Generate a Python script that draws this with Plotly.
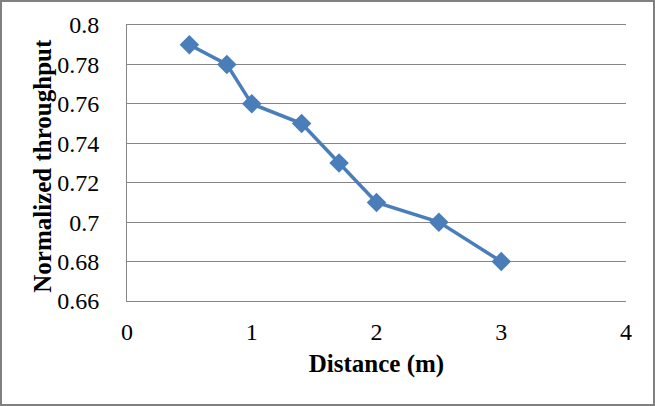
import plotly.graph_objects as go

distance = [0.5, 0.8, 1.0, 1.4, 1.7, 2.0, 2.5, 3.0]
throughput = [0.79, 0.78, 0.76, 0.75, 0.73, 0.71, 0.70, 0.68]
x_ticks = [0, 1, 2, 3, 4]
y_ticks = [0.66, 0.68, 0.70, 0.72, 0.74, 0.76, 0.78, 0.80]
y_labels = ["0.66", "0.68", "0.7", "0.72", "0.74", "0.76", "0.78", "0.8"]

W, H = 655, 406
L, R, T, B = 127, 29, 25, 105
PW, PH = W - L - R, H - T - B

fig = go.Figure()
fig.add_trace(go.Scatter(
    x=distance, y=throughput, mode="lines+markers",
    line=dict(color="#4A7EBB", width=3.5),
    marker=dict(symbol="diamond", size=15, color="#4A7EBB"),
    showlegend=False,
))

font = "Times New Roman"
fig.update_layout(
    width=W, height=H,
    margin=dict(l=L, r=R, t=T, b=B),
    paper_bgcolor="white", plot_bgcolor="white",
    font=dict(family=font, size=24, color="black"),
    xaxis=dict(
        range=[0, 4], tickvals=x_ticks, showgrid=False, zeroline=False,
        showline=True, mirror=True, linecolor="#868686", linewidth=1,
        ticks="", ticklabelstandoff=9,
        title=dict(text="<b>Distance (m)</b>", font=dict(family=font, size=25), standoff=10),
    ),
    yaxis=dict(
        range=[0.66, 0.80], tickvals=y_ticks, ticktext=y_labels,
        showgrid=True, gridcolor="#868686", gridwidth=1, zeroline=False,
        showline=True, linecolor="#868686", linewidth=1, ticks="",
        ticklabelstandoff=22,
    ),
    annotations=[dict(
        text="<b>Normalized throughput</b>", xref="paper", yref="paper",
        x=(43 - L) / PW, y=0.49, xanchor="center", yanchor="middle",
        textangle=-90, showarrow=False, font=dict(family=font, size=25),
    )],
    shapes=[dict(
        type="rect", xref="paper", yref="paper",
        x0=-(L - 1) / PW, x1=1 + (R - 1) / PW,
        y0=-(B - 1) / PH, y1=1 + (T - 1) / PH,
        line=dict(color="#808080", width=2), fillcolor="rgba(0,0,0,0)",
        layer="below",
    )],
)

fig.write_html("out.html")
